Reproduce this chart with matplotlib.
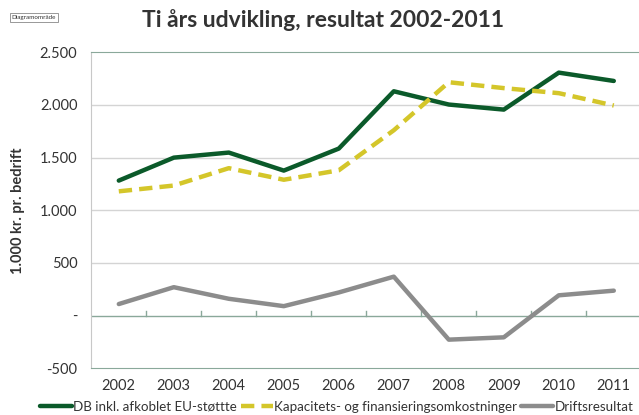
import numpy as np
import matplotlib
matplotlib.use("Agg")
import matplotlib.pyplot as plt
from matplotlib.ticker import FuncFormatter

plt.rcParams['font.family'] = ['Lato', 'DejaVu Sans']

# data (1.000 kr. pr. bedrift)
years = ['2002', '2003', '2004', '2005', '2006', '2007', '2008', '2009', '2010', '2011']
db_eu = [1282, 1500, 1548, 1377, 1586, 2130, 2004, 1956, 2307, 2228]
kap_fin = [1180, 1235, 1400, 1290, 1380, 1760, 2216, 2160, 2112, 1995]
drift = [110, 270, 160, 90, 220, 370, -228, -206, 193, 237]

green = '#0b5a2a'
yellow = '#d4c62a'
grey = '#8c8c8c'
axcol = '#8aa89a'

fig = plt.figure(figsize=(6.39, 4.15), dpi=100)
ax = fig.add_axes([91.3 / 639, 1 - 368.3 / 415, 550 / 639, (368.3 - 52.3) / 415])

x = np.arange(len(years))
ax.plot(x, db_eu, color=green, lw=3.2, solid_capstyle='round', label='DB inkl. afkoblet EU-støttte')
ax.plot(x, kap_fin, color=yellow, lw=3.2, dashes=(3.0, 1.6), label='Kapacitets- og finansieringsomkostninger')
ax.plot(x, drift, color=grey, lw=3.2, solid_capstyle='round', label='Driftsresultat')

ax.set_xlim(-0.5, len(years) - 0.5)
ax.set_ylim(-500, 2500)
ax.set_yticks(np.arange(-500, 2501, 500))
ax.yaxis.set_major_formatter(FuncFormatter(
    lambda v, p: '-' if v == 0 else f'{int(v):,}'.replace(',', '.')))
ax.set_xticks(x)
ax.set_xticklabels(years)
ax.tick_params(axis='both', length=0, labelsize=10.5, labelcolor='#333333')
ax.tick_params(axis='x', pad=8)
ax.tick_params(axis='y', pad=10)

for v in [500, 1000, 1500, 2000]:
    ax.axhline(v, color='#d4d4d4', lw=1, zorder=0)
ax.axhline(0, color=axcol, lw=1, zorder=1)
# small tick marks on zero line between categories
for b in np.arange(0.5, len(years) - 0.5, 1):
    ax.plot([b, b], [0, 45], color=axcol, lw=1, zorder=1)

ax.spines['right'].set_visible(False)
ax.spines['top'].set_color(axcol)
ax.spines['bottom'].set_color(axcol)
ax.spines['left'].set_color('#c8c8c8')

ax.set_ylabel('1.000 kr. pr. bedrift', fontsize=10.5, fontweight='bold', color='#333333')
ax.yaxis.set_label_coords(-0.12, 0.5)

fig.text(0.505, 0.952, 'Ti års udvikling, resultat 2002-2011', ha='center', va='center',
         fontsize=16.5, fontweight='bold', color='#333333')
fig.text(0.018, 0.958, 'Diagramområde', fontsize=4.5, color='#333333', va='center',
         bbox=dict(boxstyle='square,pad=0.3', fc='white', ec='#888888', lw=0.6))

fig.legend(loc='center', bbox_to_anchor=(0.527, 0.02), ncol=3, frameon=False,
           fontsize=9.6, handlelength=2.4, handletextpad=0.1, columnspacing=0.3,
           labelcolor='#333333', borderpad=0)

fig.savefig('out.png', dpi=100)
